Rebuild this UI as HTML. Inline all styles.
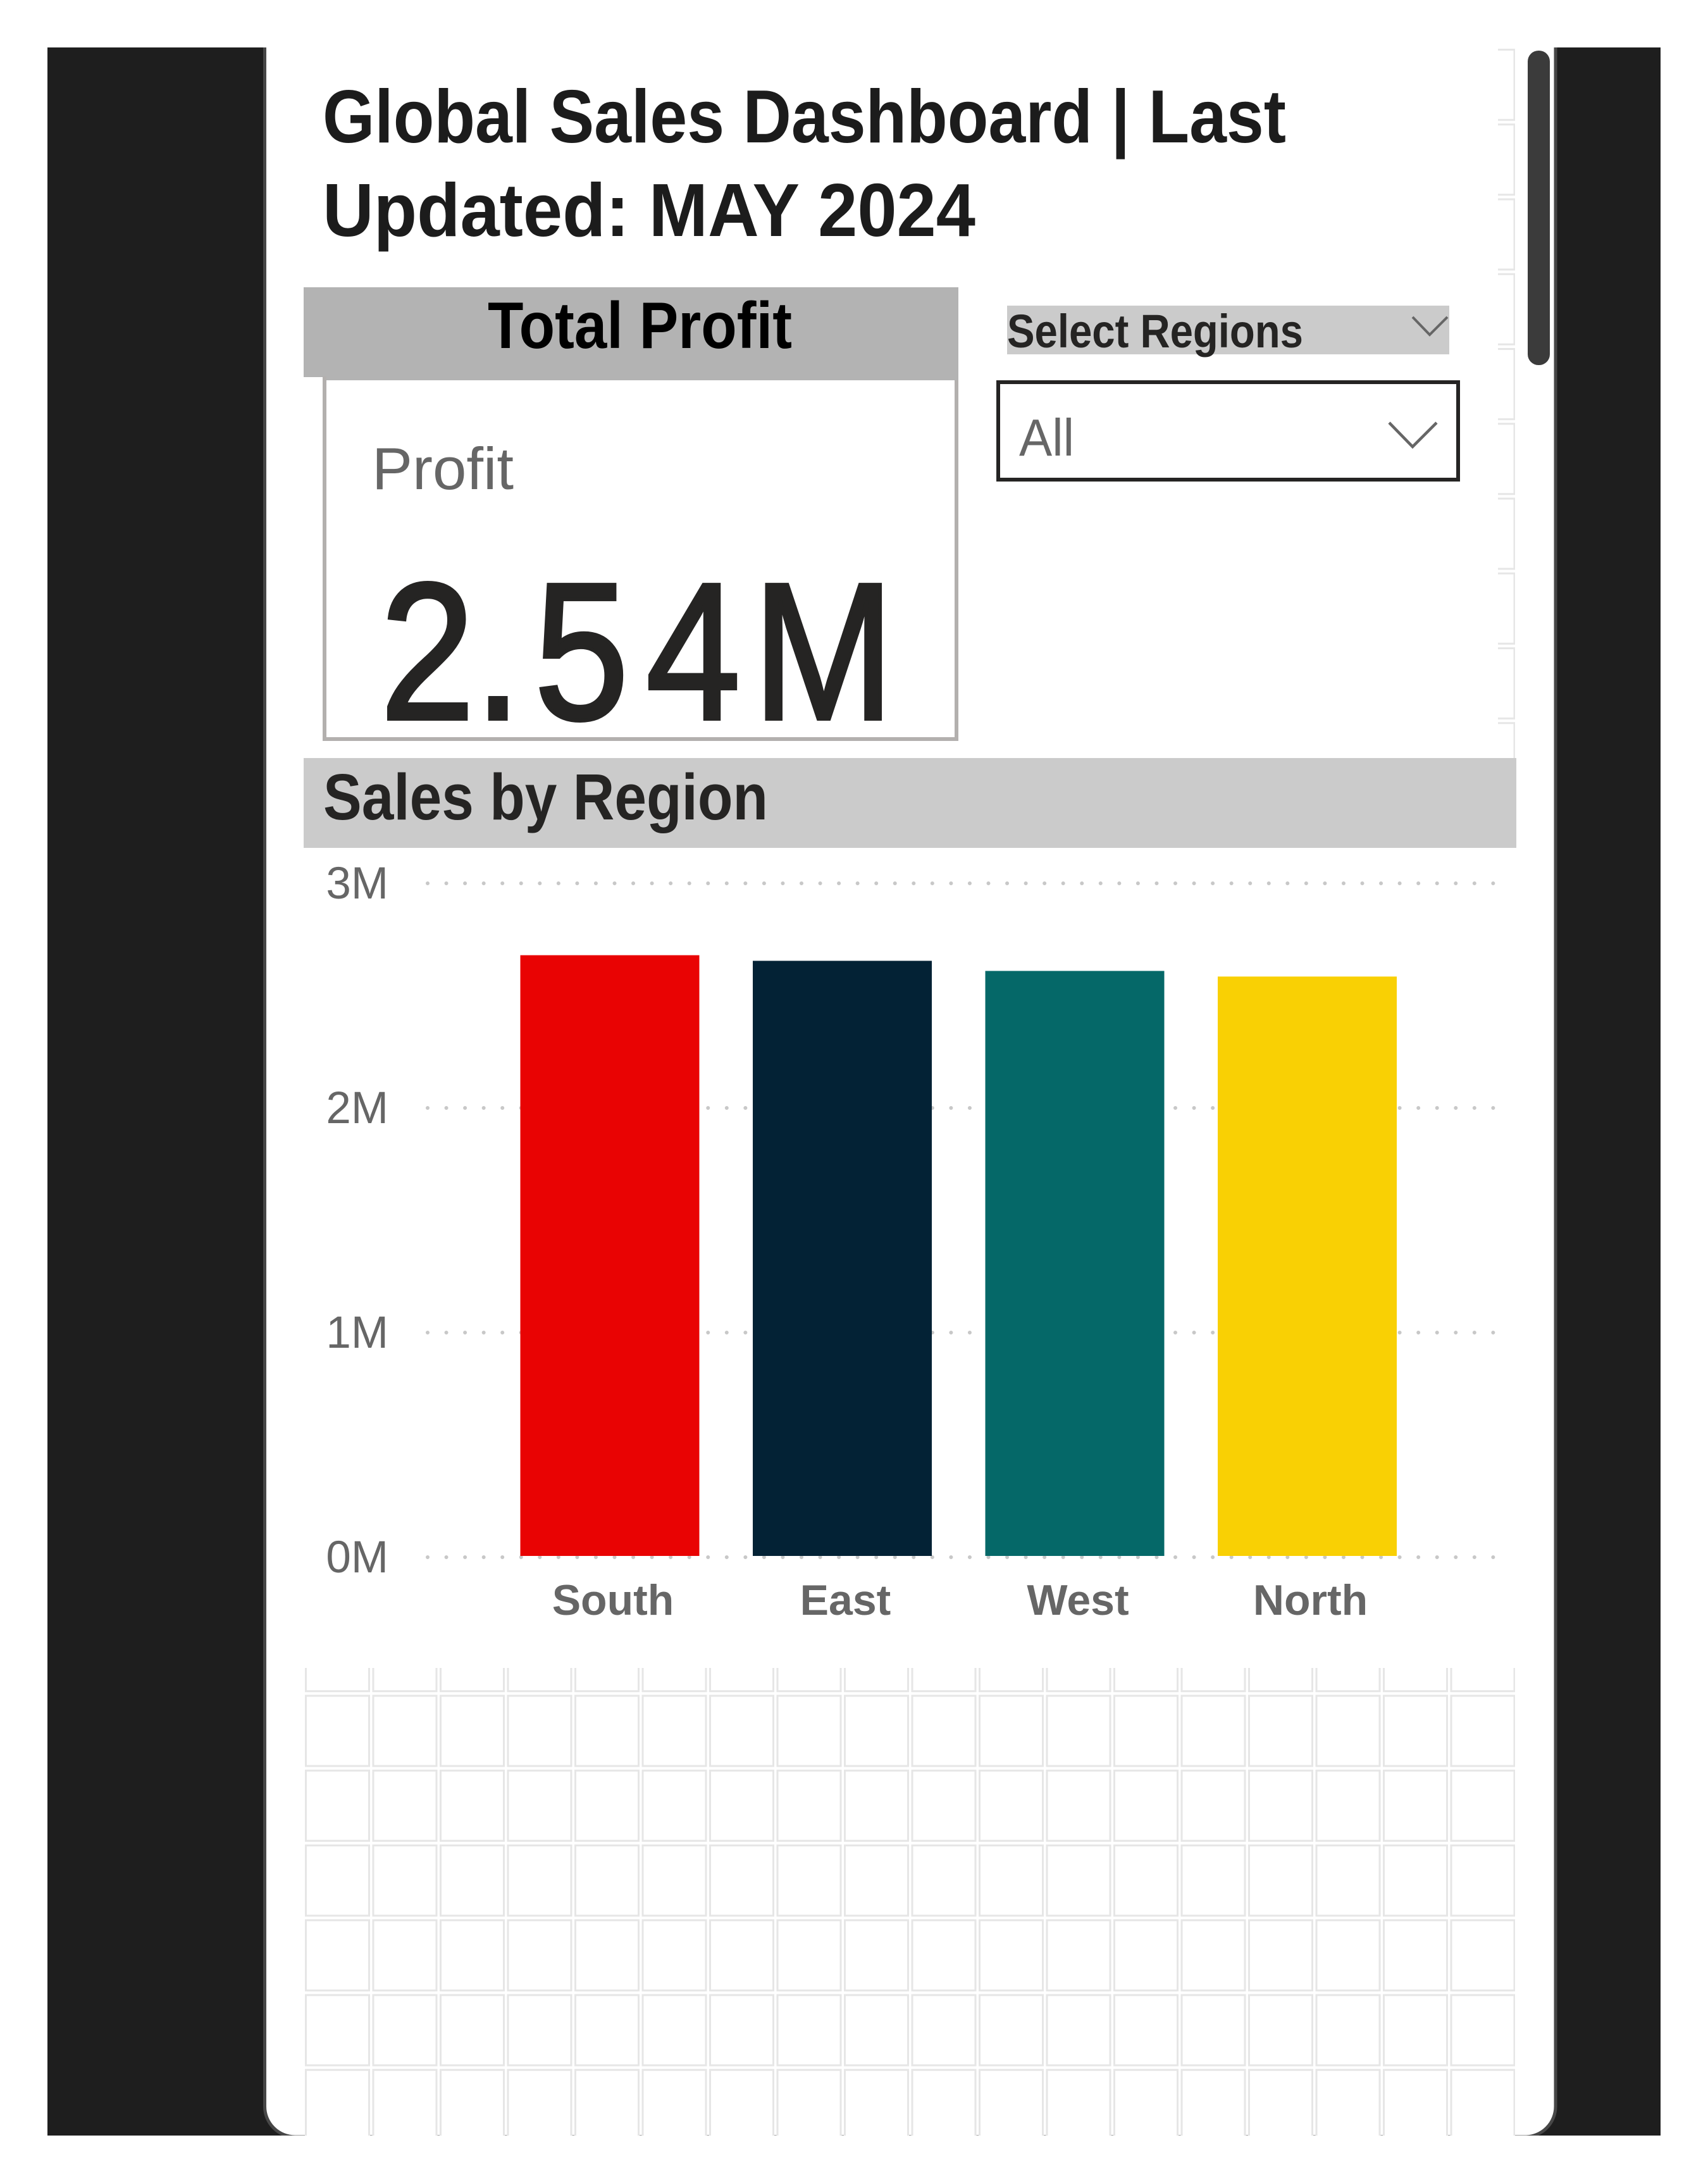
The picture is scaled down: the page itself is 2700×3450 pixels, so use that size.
<!DOCTYPE html>
<html lang="en">
<head>
<meta charset="utf-8">
<title>Global Sales Dashboard</title>
<style>
html,body{margin:0;padding:0;background:#fff;width:2700px;height:3450px;overflow:hidden}
svg{display:block}
text{font-family:"Liberation Sans",sans-serif}
</style>
</head>
<body>
<svg id="root" xmlns="http://www.w3.org/2000/svg" width="2700" height="3450" viewBox="0 0 2700 3450">
<defs>
<pattern id="cellgrid" patternUnits="userSpaceOnUse" x="482" y="77" width="106.5" height="118.25">
<rect x="1.5" y="1.5" width="100" height="111" fill="#fff" stroke="#e6e6e6" stroke-width="3"/>
</pattern>
<clipPath id="frameclip"><rect x="75" y="75" width="2550" height="3300"/></clipPath>
</defs>
<g clip-path="url(#frameclip)">
<rect x="75" y="75" width="2550" height="3300" fill="#1e1e1e"/>
<path d="M418.5 60V3329a48 48 0 0 0 48 48H2411a48 48 0 0 0 48-48V60Z" fill="#fff" stroke="#474747" stroke-width="5"/>
</g>
<rect x="2368" y="75" width="27" height="1123" fill="url(#cellgrid)"/>
<rect x="481" y="2636" width="1914" height="739" fill="url(#cellgrid)"/>

<text x="510" y="225" font-size="119" font-weight="700" fill="#1c1c1c" textLength="1523" lengthAdjust="spacingAndGlyphs">Global Sales Dashboard | Last</text>
<text x="510" y="373" font-size="119" font-weight="700" fill="#1c1c1c" textLength="1032" lengthAdjust="spacingAndGlyphs">Updated: MAY 2024</text>

<rect x="480" y="454" width="1035" height="142" fill="#b3b3b3"/>
<text x="771" y="550" font-size="104" font-weight="700" fill="#000" textLength="481" lengthAdjust="spacingAndGlyphs">Total Profit</text>
<rect x="513" y="598" width="999" height="570" fill="#fff" stroke="#b3b0ae" stroke-width="6"/>
<rect x="516" y="595" width="999" height="6" fill="#b3b3b3"/>
<text x="588" y="773" font-size="94" fill="#666" textLength="224" lengthAdjust="spacingAndGlyphs">Profit</text>
<text transform="scale(0.87 1)" x="691 862 971 1174 1368" y="1136" font-size="308" fill="#252423" stroke="#252423" stroke-width="6">2.54M</text>

<rect x="1592" y="483" width="699" height="77" fill="#cbcbcb"/>
<text x="1592" y="549" font-size="74" font-weight="700" fill="#252423" textLength="468" lengthAdjust="spacingAndGlyphs">Select Regions</text>
<path d="M2233 501L2260 529L2288 501" fill="none" stroke="#666" stroke-width="4"/>
<rect x="1578" y="604" width="727" height="154" fill="#fff" stroke="#252423" stroke-width="6"/>
<text x="1611" y="720" font-size="83" fill="#666" textLength="87" lengthAdjust="spacingAndGlyphs">All</text>
<path d="M2196 668L2233 706L2271 668" fill="none" stroke="#666" stroke-width="4.5"/>

<rect x="2415" y="80" width="35" height="497" rx="17" fill="#3b3b3b"/>

<rect x="480" y="1198" width="1917" height="142" fill="#cbcbcb"/>
<text x="511" y="1295" font-size="103" font-weight="700" fill="#252423" textLength="703" lengthAdjust="spacingAndGlyphs">Sales by Region</text>

<g id="chart"></g>
</svg>

<script>
const categories = ["South", "East", "West", "North"];
const salesValues = [2.68, 2.655, 2.61, 2.585];
const barColors = ["#e90303", "#032235", "#056868", "#f9d004"];
const tickValues = [0, 1, 2, 3];
const tickLabels = ["0M", "1M", "2M", "3M"];

const SVG_NS = "http://www.w3.org/2000/svg";
const chart = document.getElementById("chart");

function yScale(v) {
  return 2461 - v * 355;
}
function xBand(i) {
  return 822.5 + i * 367.5;
}
const bandWidth = 283;

function make(tag, attrs, text) {
  const el = document.createElementNS(SVG_NS, tag);
  for (const k in attrs) el.setAttribute(k, attrs[k]);
  if (text !== undefined) el.textContent = text;
  chart.appendChild(el);
  return el;
}

tickValues.forEach(function (t, i) {
  const line = make("line", {
    x1: 676, x2: 2368, y1: yScale(t), y2: yScale(t),
    stroke: "#c8c8c8", "stroke-width": 6,
    "stroke-linecap": "round", "stroke-dasharray": "0 29.55"
  });
  
  
  const label = make("text", {
    x: 614, y: yScale(t) + 24, "text-anchor": "end",
    "font-size": 71, fill: "#666"
  }, tickLabels[i]);
  
  
});

categories.forEach(function (c, i) {
  const bar = make("rect", {
    x: xBand(i), y: yScale(salesValues[i]), width: bandWidth,
    height: yScale(0) - 2 - yScale(salesValues[i]), fill: barColors[i]
  });
  
  
  const label = make("text", {
    x: xBand(i) + bandWidth / 2 + 5, y: 2552, "text-anchor": "middle",
    "font-size": 68, "font-weight": 700, fill: "#666"
  }, c);
  
  
});
</script>
</body>
</html>
